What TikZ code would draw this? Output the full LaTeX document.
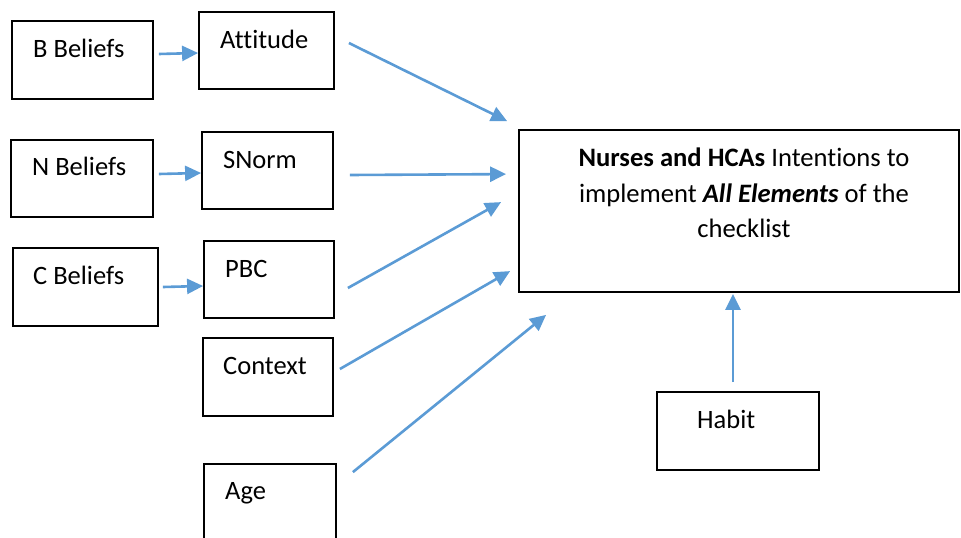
\documentclass[tikz,border=0pt]{standalone}
\usepackage{fontspec}
\setmainfont{Carlito}[Ligatures={NoCommon}]
\usetikzlibrary{arrows.meta,calc}
\definecolor{arrowblue}{HTML}{5B9BD5}

\begin{document}
\begin{tikzpicture}[x=1pt,y=-1pt,
  box/.style={draw=black, line width=1.8pt, inner sep=0, rectangle},
  lbl/.style={anchor=base west, inner sep=0, font=\fontsize{26.5}{32}\selectfont},
  arr/.style={draw=arrowblue, line width=2.6pt, -{Triangle[length=16pt,width=15pt]}}]

% page frame
\path[use as bounding box] (0,0) rectangle (961,538);
\clip (0,0) rectangle (961,538);

% belief boxes
\node[box, minimum width=141pt, minimum height=78pt] (bb) at (82.5,60) {};
\node[box, minimum width=142pt, minimum height=77pt] (nb) at (82,178.5) {};
\node[box, minimum width=145pt, minimum height=78pt] (cb) at (85.5,287) {};

% construct boxes
\node[box, minimum width=135pt, minimum height=77pt] (att) at (266.5,50.5) {};
\node[box, minimum width=131pt, minimum height=77pt] (sn)  at (267.5,170.5) {};
\node[box, minimum width=130pt, minimum height=77pt] (pbc) at (269,279.5) {};
\node[box, minimum width=130pt, minimum height=78pt] (ctx) at (268,377) {};
\node[box, minimum width=132pt, minimum height=81pt] (age) at (270,504.5) {};

% intention and habit
\node[box, minimum width=440pt, minimum height=162pt] (main) at (739,211) {};
\node[box, minimum width=162pt, minimum height=78pt] (hab) at (738,431) {};

% labels
\node[lbl] (tbb)  at (33,57)   {B Beliefs};
\node[lbl] (tnb)  at (32,175)  {N Beliefs};
\node[lbl] (tcb)  at (33,284)  {C Beliefs};
\node[lbl] (tatt) at (220,48)  {Attitude};
\node[lbl] (tsn)  at (223,168) {SNorm};
\node[lbl] (tpbc) at (225,277) {PBC};
\node[lbl] (tctx) at (223,374) {Context};
\node[lbl] (tage) at (225,499) {Age};
\node[lbl] (thab) at (697,428) {Habit};
\node[anchor=north, inner sep=0, align=center,
      font=\fontsize{26.6}{35.5}\selectfont] (tmain) at (744,148)
  {\textbf{Nurses and HCAs} Intentions to\\
   implement \textbf{\textit{All Elements}} of the\\
   checklist};

% beliefs to constructs
\draw[arr] ($(bb.east)+(5,-6)$)   -- ($(att.west)+(0,2.5)$);
\draw[arr] ($(nb.east)+(5,-4.5)$) -- ($(sn.west)+(0,2.5)$);
\draw[arr] ($(cb.east)+(4,0)$)    -- ($(pbc.west)+(0,6.5)$);

% constructs to intention
\draw[arr] ($(att.east)+(14,-7.5)$) -- ($(main.north west)+(-11,-8)$);
\draw[arr] ($(sn.east)+(16,4.5)$)   -- ($(main.north west)+(-12,45)$);
\draw[arr] ($(pbc.east)+(13,8.5)$)  -- ($(main.north west)+(-17,73)$);
\draw[arr] ($(ctx.east)+(6,-8)$)    -- ($(main.north west)+(-8,142)$);
\draw[arr] ($(age.north east)+(16,9)$) -- ($(main.south west)+(28,22)$);
\draw[arr] ($(hab.north)+(-5,-9)$)  -- ($(main.south)+(-6,1)$);
\end{tikzpicture}
\end{document}
